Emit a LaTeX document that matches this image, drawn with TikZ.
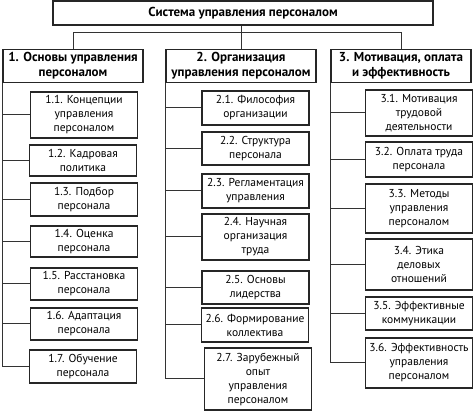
\documentclass[tikz,border=0pt]{standalone}
\usepackage{fontspec}
\setmainfont{PT Sans}
\newcommand{\boxfont}{\fontsize{11.5}{14}\selectfont}
\newcommand{\headfont}{\fontsize{13}{15}\selectfont\bfseries}

\begin{document}
\begin{tikzpicture}[x=1pt, y=-1pt,
							topbox/.style={draw=black!85, line width=1.2pt, fill=white, font=\headfont, minimum width=380pt, minimum height=24pt, inner sep=0pt},
							headbox/.style={draw=black!85, line width=1.3pt, fill=white, font=\headfont, align=center, minimum height=33pt, inner sep=0pt},
							subbox/.style={draw=black!85, line width=1.1pt, fill=white, font=\boxfont, align=center, minimum width=107pt, inner sep=0pt},
							link/.style={draw=black!80, line width=1pt},
							]
							\useasboundingbox (0,0) rectangle (474,411);
							%Nodes
							\node[topbox]                             (top) 	at	(243,13) 		{Система управления персоналом};
							\node[headbox, minimum width=140pt]       (h1) 	at 	(73,66)         {1. Основы управления\\персоналом};
							\node[headbox, minimum width=150pt]       (h2) 	at 	(241,66)        {2. Организация\\управления персоналом};
							\node[headbox, minimum width=140pt]       (h3) 	at 	(401,66)        {3. Мотивация, оплата\\и эффективность};
							
							\node[subbox, minimum height=46pt]        (s11) 	at 	(84,115)        {1.1. Концепции\\управления\\персоналом};
							\node[subbox, minimum height=31pt]        (s12) 	at 	(83,160.5)      {1.2. Кадровая\\политика};
							\node[subbox, minimum height=33pt]        (s13) 	at 	(84,199.5)      {1.3. Подбор\\персонала};
							\node[subbox, minimum height=31pt]        (s14) 	at 	(84,241.5)      {1.4. Оценка\\персонала};
							\node[subbox, minimum height=32pt]        (s15) 	at 	(84,284)        {1.5. Расстановка\\персонала};
							\node[subbox, minimum height=32pt]        (s16) 	at 	(84,324)        {1.6. Адаптация\\персонала};
							\node[subbox, minimum height=33pt]        (s17) 	at 	(83,366.5)      {1.7. Обучение\\персонала};
							
							\node[subbox, minimum height=34pt]        (s21) 	at 	(255.5,108)     {2.1. Философия\\организации};
							\node[subbox, minimum height=33pt]        (s22) 	at 	(255.5,148.5)   {2.2. Структура\\персонала};
							\node[subbox, minimum height=34pt]        (s23) 	at 	(255.5,191)     {2.3. Регламентация\\управления};
							\node[subbox, minimum height=46pt]        (s24) 	at 	(255.5,237)     {2.4. Научная\\организация\\труда};
							\node[subbox, minimum height=33pt]        (s25) 	at 	(255.5,287.5)   {2.5. Основы\\лидерства};
							\node[subbox, minimum height=34pt]        (s26) 	at 	(255,325)       {2.6. Формирование\\коллектива};
							\node[subbox, minimum height=62pt]        (s27) 	at 	(258,379)       {2.7. Зарубежный\\опыт\\управления\\персоналом};
							
							\node[subbox, minimum height=46pt]        (s31) 	at 	(419,113)       {3.1. Мотивация\\трудовой\\деятельности};
							\node[subbox, minimum height=35pt]        (s32) 	at 	(419,159.5)     {3.2. Оплата труда\\персонала};
							\node[subbox, minimum height=49pt]        (s33) 	at 	(419,208.5)     {3.3. Методы\\управления\\персоналом};
							\node[subbox, minimum height=51pt]        (s34) 	at 	(419,264.5)     {3.4. Этика\\деловых\\отношений};
							\node[subbox, minimum height=33pt]        (s35) 	at 	(419,313.5)     {3.5. Эффективные\\коммуникации};
							\node[subbox, minimum height=50pt]        (s36) 	at 	(419,363)       {3.6. Эффективность\\управления\\персоналом};
							\coordinate                               (bus) 	at 	(0,33);
							
							%Links
							\draw[link] (h2.north |- top.south) --  (h2.north);
							\draw[link] (h1.north) |- (h3.north |- bus) -- (h3.north);
							
							\draw[link] (h1.south west) |-  (s17.west);
							\foreach \n in {s11,s12,s13,s14,s15,s16}
								\draw[link] (h1.south west |- \n.west) --  (\n.west);
							\draw[link] (h2.south west) |-  (s27.west);
							\foreach \n in {s21,s22,s23,s24,s25,s26}
								\draw[link] (h2.south west |- \n.west) --  (\n.west);
							\draw[link] (h3.south west) |-  (s36.west);
							\foreach \n in {s31,s32,s33,s34,s35}
								\draw[link] (h3.south west |- \n.west) --  (\n.west);
						\end{tikzpicture}
\end{document}
